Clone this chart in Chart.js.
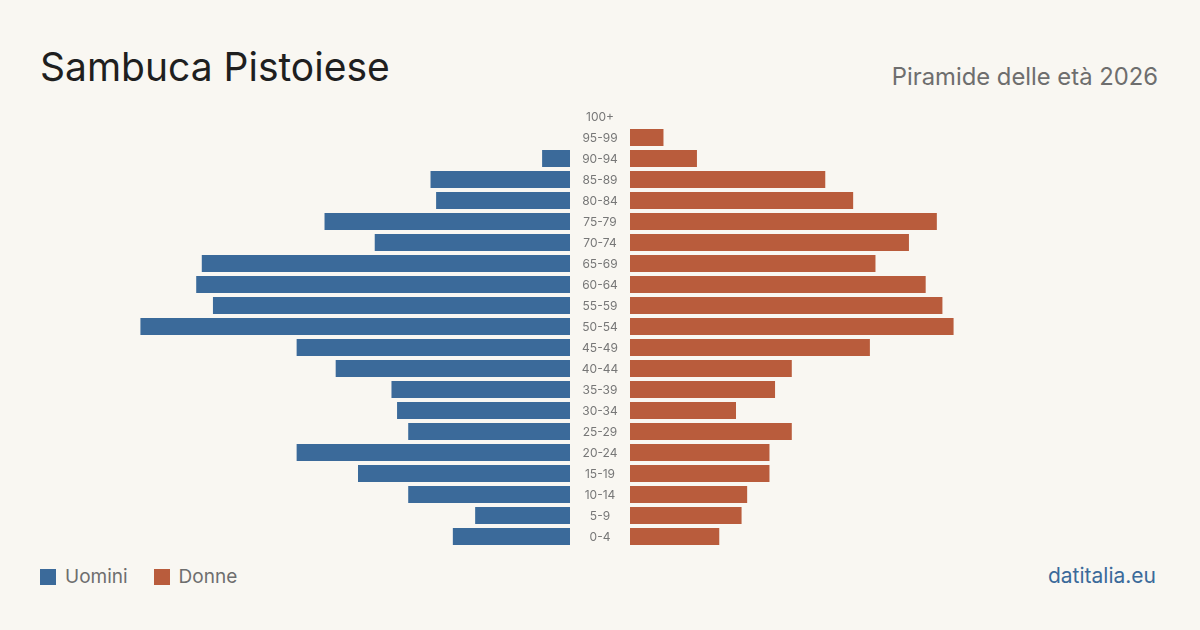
<!DOCTYPE html>
<html>
<head>
<meta charset="utf-8">
<script src="https://cdn.jsdelivr.net/npm/chart.js@4"></script>
<style>
  html, body { margin: 0; padding: 0; }
  body { width: 1200px; height: 630px; background: #f9f7f2; position: relative; overflow: hidden; font-family: Inter, "Noto Sans", sans-serif; }
  .title { position: absolute; left: 40px; top: 47px; font-size: 39px; line-height: 39px; color: #1f1f1f; }
  .subtitle { position: absolute; right: 42px; top: 65px; font-size: 23.8px; line-height: 24px; color: #6e6e6e; }
  .legend { position: absolute; left: 40px; top: 567px; font-size: 19px; line-height: 20px; color: #6e6e6e; display: flex; align-items: center; }
  .legend .sw { width: 16px; height: 16px; display: inline-block; margin-right: 9px; }
  .legend .item { display: flex; align-items: center; margin-right: 26px; }
  .source { position: absolute; right: 44px; top: 565px; font-size: 21px; line-height: 22px; color: #3b6a9a; }
  #leftBox { position: absolute; left: 40px; top: 106px; width: 530px; height: 441px; }
  #rightBox { position: absolute; left: 570px; top: 106px; width: 590px; height: 441px; }
</style>
</head>
<body>
<div class="title">Sambuca Pistoiese</div>
<div class="subtitle">Piramide delle età 2026</div>
<div id="leftBox"><canvas id="menChart"></canvas></div>
<div id="rightBox"><canvas id="womenChart"></canvas></div>
<div class="legend">
  <span class="item"><span class="sw" style="background:#3b6a9a"></span>Uomini</span>
  <span class="item"><span class="sw" style="background:#b95c3c"></span>Donne</span>
</div>
<div class="source">datitalia.eu</div>

<script>
// Age groups, top to bottom
const ageGroups = ['100+', '95-99', '90-94', '85-89', '80-84', '75-79', '70-74', '65-69', '60-64', '55-59',
    '50-54', '45-49', '40-44', '35-39', '30-34', '25-29', '20-24', '15-19', '10-14', '5-9', '0-4'];

// Residents per age group
const men = [0, 0, 5, 25, 24, 44, 35, 66, 67, 64, 77, 49, 42, 32, 31, 29, 49, 38, 29, 17, 21];
const women = [0, 6, 12, 35, 40, 55, 50, 44, 53, 56, 58, 43, 29, 26, 19, 29, 25, 25, 21, 20, 16];

const axisMax = 95;

const colors = {
    men: '#3b6a9a',
    women: '#b95c3c',
    label: '#777777'
};

const baseOptions = {
    indexAxis: 'y',
    responsive: true,
    maintainAspectRatio: false,
    animation: false,
    plugins: { legend: { display: false }, tooltip: { enabled: false } }
};

// Age labels drawn in the gap between the two halves
const ageLabels = {
    id: 'ageLabels',
    afterDraw(chart) {
        const { ctx, scales: { y } } = chart;
        ctx.save();
        ctx.fillStyle = colors.label;
        ctx.font = '12px Inter';
        ctx.textAlign = 'center';
        ctx.textBaseline = 'middle';
        chart.data.labels.forEach((label, i) => {
            ctx.fillText(label, chart.chartArea.left / 2, y.getPixelForValue(i) + 1);
        });
        ctx.restore();
    }
};

// Men: bars grow to the left
new Chart(document.getElementById('menChart'), {
    type: 'bar',
    data: {
        labels: ageGroups,
        datasets: [{
            label: 'Uomini',
            data: men,
            backgroundColor: colors.men,
            barPercentage: 0.81,
            categoryPercentage: 1
        }]
    },
    options: {
        ...baseOptions,
        layout: { padding: 0 },
        scales: {
            x: { min: 0, max: axisMax, reverse: true, display: false },
            y: { display: false }
        }
    }
});

// Women: bars grow to the right
new Chart(document.getElementById('womenChart'), {
    type: 'bar',
    data: {
        labels: ageGroups,
        datasets: [{
            label: 'Donne',
            data: women,
            backgroundColor: colors.women,
            barPercentage: 0.81,
            categoryPercentage: 1
        }]
    },
    options: {
        ...baseOptions,
        layout: { padding: { left: 60, right: 0, top: 0, bottom: 0 } },
        scales: {
            x: { min: 0, max: axisMax, display: false },
            y: { display: false }
        }
    },
    plugins: [ageLabels]
});
</script>
</body>
</html>
